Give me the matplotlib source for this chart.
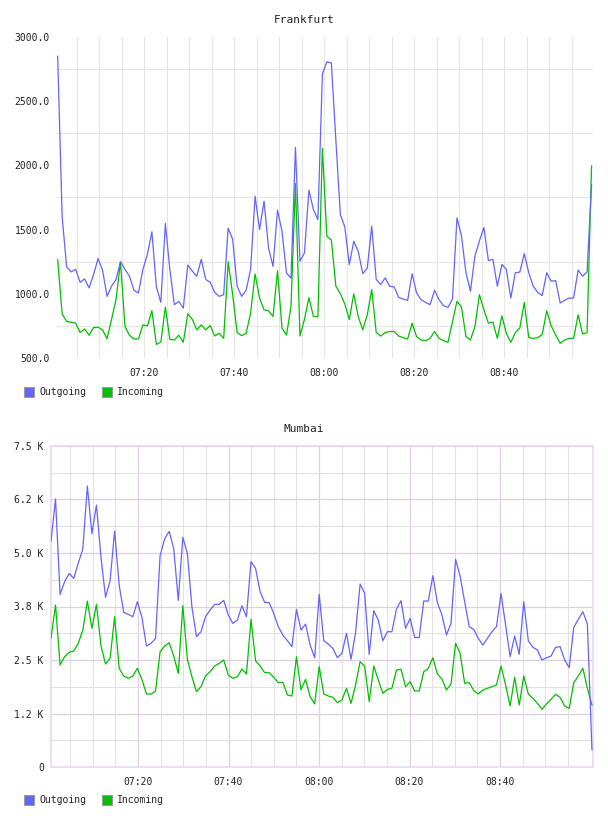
import numpy as np
import matplotlib
matplotlib.use("Agg")
import matplotlib.pyplot as plt
from matplotlib.patches import Rectangle

# ---------------- data ----------------
fra_out = [2850, 1600, 1208, 1171, 1190, 1090, 1116, 1046, 1150, 1274,
           1185, 980, 1059, 1111, 1250, 1190, 1137, 1027, 1006, 1190,
           1308, 1483, 1054, 933, 1547, 1190, 915, 941, 888, 1224,
           1177, 1137, 1268, 1111, 1090, 1011, 980, 993, 1510, 1425,
           1059, 980, 1027, 1190, 1760, 1500, 1721, 1357, 1213, 1651,
           1487, 1162, 1122, 2140, 1253, 1318, 1807, 1656, 1578, 2711,
           2807, 2797, 2200, 1617, 1521, 1227, 1409, 1330, 1156, 1200,
           1526, 1111, 1072, 1124, 1059, 1054, 972, 959, 949, 1156,
           1006, 954, 933, 915, 1027, 954, 907, 894, 959, 1591,
           1452, 1164, 1020, 1294, 1412, 1516, 1260, 1268, 1059, 1229,
           1190, 967, 1164, 1169, 1313, 1164, 1059, 1011, 986, 1164,
           1098, 1103, 928, 949, 967, 967, 1185, 1137, 1171, 1852]
fra_in = [1265, 842, 784, 779, 771, 698, 726, 677, 737, 740,
          719, 650, 800, 954, 1250, 745, 677, 648, 648, 758,
          750, 868, 606, 624, 897, 645, 640, 677, 622, 845,
          802, 719, 758, 719, 753, 671, 692, 653, 1250, 993,
          698, 674, 692, 850, 1154, 966, 875, 867, 823, 1180,
          732, 679, 901, 1859, 671, 800, 970, 823, 820, 2133,
          1448, 1420, 1060, 1000, 920, 800, 1000, 820, 719, 836,
          1033, 698, 671, 698, 706, 706, 671, 658, 648, 771,
          666, 640, 635, 653, 706, 653, 635, 622, 784, 941,
          897, 666, 640, 745, 993, 876, 771, 779, 653, 829,
          692, 622, 698, 732, 933, 658, 653, 658, 684, 868,
          750, 679, 614, 640, 653, 653, 836, 687, 698, 1995]
mum_out = [5270, 6260, 4030, 4330, 4520, 4408, 4760, 5090, 6565, 5450,
           6120, 4900, 3964, 4352, 5513, 4250, 3615, 3567, 3510, 3862,
           3500, 2826, 2888, 3005, 4940, 5330, 5505, 5108, 3894, 5366,
           4991, 3744, 3045, 3162, 3512, 3667, 3800, 3800, 3894, 3551,
           3356, 3434, 3768, 3512, 4800, 4641, 4096, 3846, 3838, 3590,
           3279, 3084, 2951, 2811, 3682, 3200, 3340, 2850, 2553, 4034,
           2951, 2873, 2772, 2553, 2655, 3123, 2515, 3138, 4275, 4057,
           2632, 3652, 3434, 2951, 3161, 3161, 3691, 3885, 3239, 3473,
           3029, 3022, 3878, 3878, 4470, 3839, 3551, 3084, 3356, 4850,
           4462, 3862, 3278, 3216, 3006, 2850, 3006, 3161, 3278, 4057,
           3317, 2577, 3060, 2632, 3862, 2951, 2796, 2733, 2500, 2553,
           2593, 2796, 2811, 2500, 2320, 3263, 3450, 3629, 3340, 400]
mum_in = [3006, 3784, 2383, 2577, 2679, 2710, 2889, 3200, 3878, 3239,
          3800, 2827, 2406, 2539, 3512, 2306, 2126, 2072, 2126, 2306,
          2048, 1705, 1705, 1775, 2694, 2827, 2904, 2593, 2188, 3769,
          2515, 2110, 1760, 1876, 2126, 2227, 2359, 2422, 2500, 2149,
          2072, 2110, 2290, 2173, 3450, 2483, 2359, 2204, 2204, 2095,
          1970, 1978, 1682, 1659, 2577, 1799, 2048, 1643, 1472, 2344,
          1705, 1659, 1628, 1503, 1565, 1838, 1488, 1916, 2460, 2359,
          1526, 2359, 2032, 1721, 1814, 1838, 2266, 2282, 1876, 1993,
          1775, 1775, 2227, 2306, 2553, 2173, 2056, 1799, 1939, 2889,
          2655, 1955, 1970, 1783, 1705, 1799, 1838, 1876, 1916, 2359,
          1916, 1425, 2095, 1448, 2126, 1705, 1604, 1488, 1347, 1472,
          1581, 1698, 1628, 1425, 1370, 1970, 2126, 2306, 1838, 1448]

# minutes after 07:00 of first sample, sampling step (minutes)
fra_t0, fra_dt = 0.71, 0.997
mum_t0, mum_dt = 0.77, 1.0046

time_ticks = [20, 40, 60, 80, 100]
time_labels = ["07:20", "07:40", "08:00", "08:20", "08:40"]

fra_yticks = [500, 1000, 1500, 2000, 2500, 3000]
fra_ylabels = ["500.0", "1000.0", "1500.0", "2000.0", "2500.0", "3000.0"]
fra_ygrid = [750, 1250, 1750, 2250, 2750]

mum_yticks = [0, 1250, 2500, 3750, 5000, 6250, 7500]
mum_ylabels = ["0", "1.2 K", "2.5 K", "3.8 K", "5.0 K", "6.2 K", "7.5 K"]
mum_yminor = [625, 1875, 3125, 4375, 5625, 6875]

series_names = ["Outgoing", "Incoming"]
series_colors = ["#6464ff", "#00c000"]

# ---------------- figure ----------------
W, H = 608, 816
plt.rcParams['font.family'] = ['DejaVu Sans Mono']
fig = plt.figure(figsize=(W / 100, H / 100), dpi=100)
fig.patch.set_facecolor("white")

FS = 7
TXT = "#222222"


def px_axes(l, r, t, b):
    return fig.add_axes([l / W, 1 - b / H, (r - l) / W, (b - t) / H])


def legend(y):
    for i, (name, col) in enumerate(zip(series_names, series_colors)):
        x0 = 24 + i * 78
        fig.patches.append(Rectangle((x0 / W, 1 - (y + 5) / H), 10 / W, 10 / H,
                                     transform=fig.transFigure, facecolor=col,
                                     edgecolor="#9a9a9a", lw=0.8))
        fig.text((x0 + 15) / W, 1 - y / H, name, fontsize=FS, color=TXT,
                 va="center", ha="left")


# ---- Frankfurt ----
ax1 = px_axes(57, 593, 37, 358)
t1 = fra_t0 + fra_dt * np.arange(len(fra_out))
ax1.plot(t1, fra_in, color=series_colors[1], lw=0.9, zorder=3)
ax1.plot(t1, fra_out, color=series_colors[0], lw=0.9, zorder=4)
ax1.set_xlim(0.56, 119.67)
ax1.set_ylim(500, 3000)
for s in ax1.spines.values():
    s.set_visible(False)
ax1.set_xticks(time_ticks, time_labels)
ax1.set_xticks(np.arange(5, 120, 5), minor=True)
ax1.set_yticks(fra_yticks, fra_ylabels)
ax1.set_yticks(fra_ygrid, minor=True)
ax1.tick_params(which="both", length=0, labelsize=FS, colors=TXT)
ax1.tick_params(axis="x", pad=7)
ax1.tick_params(axis="y", pad=5)
ax1.xaxis.grid(True, which="both", color="#e6e6e6", lw=0.8)
ax1.yaxis.grid(True, which="minor", color="#e6e6e6", lw=0.8)
ax1.yaxis.grid(False, which="major")
ax1.set_axisbelow(True)
fig.text(0.5, 1 - 20 / H, "Frankfurt", ha="center", va="center",
         fontsize=8, color=TXT)
legend(392)

# ---- Mumbai ----
ax2 = px_axes(50.7, 593, 446, 767)
t2 = mum_t0 + mum_dt * np.arange(len(mum_out))
ax2.plot(t2, mum_in, color=series_colors[1], lw=0.9, zorder=3)
ax2.plot(t2, mum_out, color=series_colors[0], lw=0.9, zorder=4)
ax2.set_xlim(0.707, 120.55)
ax2.set_ylim(0, 7500)
for s in ax2.spines.values():
    s.set_color("#ead8ee")
    s.set_linewidth(1.2)
ax2.set_xticks(time_ticks, time_labels)
ax2.set_xticks(np.arange(5, 120, 5), minor=True)
ax2.set_yticks(mum_yticks, mum_ylabels)
ax2.set_yticks(mum_yminor, minor=True)
ax2.tick_params(which="both", length=0, labelsize=FS, colors=TXT)
ax2.tick_params(axis="x", pad=7)
ax2.tick_params(axis="y", pad=5)
ax2.grid(True, which="major", color="#e2cce6", lw=0.9)
ax2.grid(True, which="minor", color="#e4e0e4", lw=0.8)
ax2.set_axisbelow(True)
fig.text(0.5, 1 - 429 / H, "Mumbai", ha="center", va="center",
         fontsize=8, color=TXT)
legend(800)

fig.savefig("out.png", dpi=100, facecolor="white")
